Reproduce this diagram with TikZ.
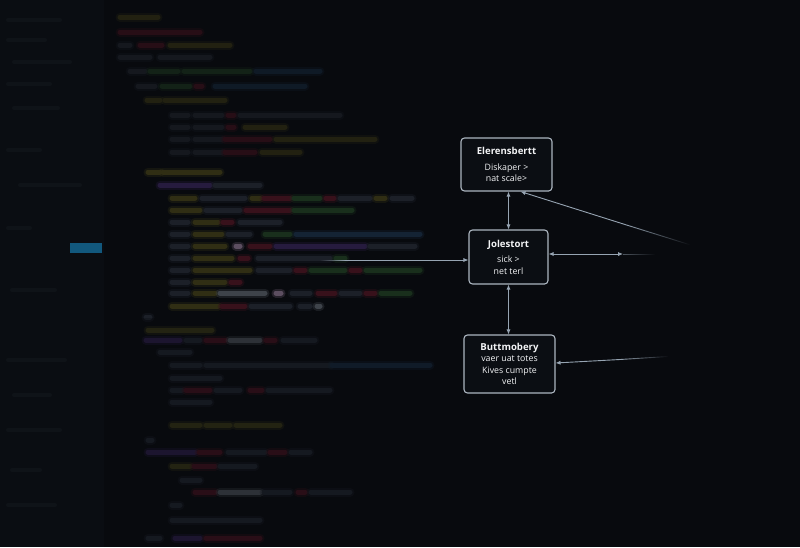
\documentclass[tikz,border=0pt]{standalone}
\usepackage{fontspec}
\setmainfont{Open Sans}
\usepackage{tikz}
\usetikzlibrary{arrows.meta,fadings,calc}

\definecolor{bg}{RGB}{8,10,14}
\definecolor{side}{RGB}{10,13,18}
\definecolor{sel}{RGB}{18,88,125}
\definecolor{boxfill}{RGB}{11,14,19}
\definecolor{boxline}{RGB}{172,182,192}
\definecolor{wire}{RGB}{150,164,178}
\definecolor{cy}{RGB}{48,46,20}
\definecolor{cr}{RGB}{56,17,27}
\definecolor{cg}{RGB}{25,47,28}
\definecolor{cb}{RGB}{20,35,52}
\definecolor{cx}{RGB}{28,32,40}
\definecolor{cp}{RGB}{38,27,62}
\definecolor{cw}{RGB}{62,67,74}
\definecolor{ck}{RGB}{92,78,96}

\begin{document}
\begin{tikzpicture}[x=1pt,y=-1pt,
  block/.style={draw=boxline, line width=1.1pt, fill=boxfill, rounded corners=3.5pt,
    text=white!85!boxline, align=center, inner sep=0pt, font=\fontsize{8.8}{11.5}\selectfont},
  heading/.style={font=\fontsize{9.6}{12}\selectfont\bfseries},
  link/.style={draw=wire, line width=0.9pt},
  tip/.style={-{Latex[length=5pt,width=4.2pt]}},
  tips/.style={{Latex[length=5pt,width=4.2pt]}-{Latex[length=5pt,width=4.2pt]}},
  bar/.style={line width=5pt, line cap=round},
  glow/.style={line width=9pt, line cap=round, opacity=0.35}]
\useasboundingbox (0,0) rectangle (800,547);
\fill[bg] (0,0) rectangle (800,547);
\fill[side] (0,0) rectangle (104,547);
\foreach \y/\a/\b in {20/8/60,40/8/45,62/14/70,84/8/50,108/14/58,150/8/40,185/20/80,228/8/30,290/12/55,360/8/65,395/14/50,430/8/60,470/12/40,505/8/55}
  \draw[bar, line width=4pt, cx!30!side] (\a,\y) -- (\b,\y);
\fill[sel] (70,243) rectangle (102,253);
\foreach \y/\a/\b/\c in {
  17/120/158/cy, 32/120/200/cr,
  45/120/130/cx, 45/140/162/cr, 45/170/230/cy,
  57/120/150/cx, 57/160/210/cx,
  71/130/145/cx, 71/150/178/cg, 71/184/250/cg, 71/256/320/cb,
  86/138/155/cx, 86/162/190/cg, 86/196/202/cr, 86/215/305/cb,
  100/147/160/cy, 100/165/225/cy,
  115/172/188/cx, 115/195/222/cx, 115/228/234/cr, 115/240/340/cx,
  127/172/188/cx, 127/195/222/cx, 127/228/234/cr, 127/245/285/cy,
  139/172/188/cx, 139/195/222/cx, 139/225/270/cr, 139/276/375/cy,
  152/172/188/cx, 152/195/222/cx, 152/225/255/cr, 152/262/300/cy,
  172/148/160/cy, 172/163/220/cy,
  185/160/210/cp, 185/215/260/cx,
  198/172/195/cy, 198/202/245/cx, 198/252/260/cy, 198/264/290/cr, 198/294/320/cg,
  198/326/334/cr, 198/340/370/cx, 198/376/385/cy, 198/392/412/cx,
  210/172/200/cy, 210/206/240/cx, 210/246/290/cr, 210/294/352/cg,
  222/172/188/cx, 222/195/218/cy, 222/223/232/cr, 222/240/280/cx,
  234/172/188/cx, 234/195/222/cy, 234/228/250/cx, 234/265/290/cg, 234/296/420/cb,
  246/172/188/cx, 246/195/225/cy, 246/236/240/ck, 246/250/270/cr, 246/276/365/cp, 246/370/415/cx,
  258/172/188/cx, 258/195/232/cy, 258/240/248/cr, 258/258/330/cx, 258/336/345/cg,
  270/172/188/cx, 270/195/250/cy, 270/258/290/cx, 270/296/305/cr, 270/311/345/cg,
  270/351/360/cr, 270/366/420/cg,
  282/172/188/cx, 282/195/225/cy, 282/231/240/cr,
  293/172/188/cx, 293/195/215/cy, 293/220/265/cw, 293/276/281/ck, 293/292/310/cx,
  293/318/335/cr, 293/341/360/cx, 293/366/375/cr, 293/381/410/cg,
  306/172/218/cy, 306/222/245/cr, 306/251/290/cx, 306/300/310/cx, 306/317/320/cw,
  317/146/150/cx, 330/148/212/cy,
  340/146/180/cp, 340/186/200/cx, 340/206/225/cr, 340/230/260/cw, 340/266/275/cr, 340/283/315/cx,
  352/160/190/cx,
  365/172/200/cx, 365/206/330/cx, 365/332/430/cb,
  378/172/220/cx,
  390/172/182/cx, 390/186/210/cr, 390/216/240/cx, 390/250/262/cr, 390/268/330/cx,
  402/172/210/cx,
  425/172/200/cy, 425/206/230/cy, 425/236/280/cy,
  440/148/152/cx,
  452/148/195/cp, 452/199/220/cr, 452/228/265/cx, 452/270/285/cr, 452/291/310/cx,
  466/172/190/cy, 466/194/215/cr, 466/220/255/cx,
  480/182/200/cx,
  492/195/215/cr, 492/220/260/cw, 492/264/290/cx, 492/298/305/cr, 492/311/350/cx,
  505/172/180/cx, 520/172/260/cx,
  538/148/160/cx, 538/175/200/cp, 538/206/260/cr}
  {\draw[glow, \c] (\a,\y) -- (\b,\y);
   \draw[bar, \c] (\a,\y) -- (\b,\y);}
\fill[bg, opacity=0.35] (104,0) rectangle (440,162);
\fill[bg, opacity=0.3] (104,318) rectangle (440,547);

\node[block, minimum width=91pt, minimum height=53pt] (elerens) at (506.5,164.5)
  {\textbf{\fontsize{9.6}{12}\selectfont Elerensbertt}\\[4pt] Diskaper >\\ nat scale>};
\node[block, minimum width=79pt, minimum height=54pt] (jole) at (508.5,257)
  {\textbf{\fontsize{9.6}{12}\selectfont Jolestort}\\[4pt] sick >\\ net terl};
\node[block, minimum width=91pt, minimum height=58pt] (butt) at (509.5,364)
  {\textbf{\fontsize{9.6}{12}\selectfont Buttmobery}\\ vaer uat totes\\ Kives cumpte\\ vetl};

\coordinate (codeend) at (345,260);
\coordinate (eastend) at (623,254);
\coordinate (ne) at (625,224.5);
\coordinate (se) at (620,359.5);

\draw[link, tips] (jole.north |- elerens.south) -- (jole.north);
\draw[link, tips] (jole.south) -- (jole.south |- butt.north);
\draw[link, tip] (codeend) -- (codeend -| jole.west);
\draw[link, tips] (jole.east |- eastend) -- (eastend);
\draw[link, tip] (ne) -- ([xshift=14pt]elerens.south);
\draw[link, tip] (se) -- ([yshift=1pt]butt.east);

\draw[link, path fading=west] (320,260) -- (codeend);
\draw[link, path fading=east, opacity=0.5] (eastend) -- (655,254);
\draw[link, path fading=east] (ne) -- (690,244.8);
\draw[link, path fading=east] (se) -- (668,356.5);
\end{tikzpicture}
\end{document}
